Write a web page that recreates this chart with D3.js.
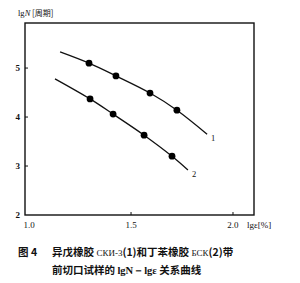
<!DOCTYPE html>
<html>
<head>
<meta charset="utf-8">
<script src="https://cdn.jsdelivr.net/npm/d3@7"></script>
<style>
  body { margin: 0; background: #fff; }
  text { fill: #111; }
</style>
</head>
<body>
<svg></svg>
<script>
const size = {w: 300, h: 283};
const plot = {l: 25, r: 254, t: 23, b: 215};

// curve 1 (СКИ-3), curve 2 (БСК): lgε, lgN
const curve1X = [1.152, 1.294, 1.426, 1.593, 1.725, 1.873];
const curve1Y = [5.33, 5.10, 4.84, 4.49, 4.14, 3.65];
const curve2X = [1.127, 1.299, 1.412, 1.564, 1.701, 1.779];
const curve2Y = [4.78, 4.37, 4.06, 3.63, 3.20, 2.92];
// which points carry a dot (first and last are curve ends only)
const dotIdx = [1, 2, 3, 4];
const curveLabels = ['1', '2'];

const yTicks = [2, 3, 4, 5];
const xTicks = [1.0, 1.5, 2.0];

const svg = d3.select('svg')
    .attr('width', size.w)
    .attr('height', size.h);

const x = d3.scaleLinear().domain([0.98, 2.103]).range([plot.l, plot.r]);
const y = d3.scaleLinear().domain([2, 5.92]).range([plot.b, plot.t]);

// frame
svg.append('rect')
    .attr('x', plot.l).attr('y', plot.t)
    .attr('width', plot.r - plot.l).attr('height', plot.b - plot.t)
    .attr('fill', 'none').attr('stroke', '#111').attr('stroke-width', 1.4);

// ticks (inward)
svg.selectAll('.yt').data(yTicks.slice(1)).enter().append('line')
    .attr('x1', plot.l).attr('x2', plot.l + 3)
    .attr('y1', d => y(d)).attr('y2', d => y(d))
    .attr('stroke', '#111').attr('stroke-width', 1);
svg.selectAll('.xt').data(xTicks.slice(1)).enter().append('line')
    .attr('x1', d => x(d)).attr('x2', d => x(d))
    .attr('y1', plot.b).attr('y2', plot.b - 3)
    .attr('stroke', '#111').attr('stroke-width', 1);

const serif = '"Liberation Serif", "DejaVu Serif", serif';

svg.selectAll('.yl').data(yTicks).enter().append('text')
    .attr('x', 20).attr('y', d => y(d) + 3)
    .attr('text-anchor', 'end')
    .style('font-family', serif).style('font-size', '9px').style('font-weight', 'bold')
    .text(d => d);
svg.selectAll('.xl').data(xTicks).enter().append('text')
    .attr('x', d => x(d)).attr('y', 228)
    .attr('text-anchor', 'middle')
    .style('font-family', serif).style('font-size', '9px')
    .text(d => d.toFixed(1));

// axis titles
const yt = svg.append('text').attr('x', 18).attr('y', 16)
    .style('font-family', serif).style('font-size', '8.5px');
yt.append('tspan').text('lg');
yt.append('tspan').style('font-style', 'italic').text('N');
yt.append('tspan').style('font-family', '"Noto Sans CJK SC"').style('font-size', '8px').text(' [周期]');

svg.append('text').attr('x', 247).attr('y', 228)
    .style('font-family', serif).style('font-size', '9px')
    .text('lgε[%]');

// curves
const line = d3.line()
    .x(d => x(d[0])).y(d => y(d[1]))
    .curve(d3.curveCatmullRom.alpha(0.5));

const series = [
    d3.zip(curve1X, curve1Y),
    d3.zip(curve2X, curve2Y)
];

series.forEach(function (pts, i) {
    svg.append('path')
        .attr('d', line(pts))
        .attr('fill', 'none').attr('stroke', '#111').attr('stroke-width', 1.3);
    svg.selectAll('.dot' + i).data(dotIdx.map(k => pts[k])).enter().append('circle')
        .attr('cx', d => x(d[0])).attr('cy', d => y(d[1]))
        .attr('r', 3.4).attr('fill', '#000');
    let last = pts[pts.length - 1];
    svg.append('text')
        .attr('x', x(last[0]) + 4).attr('y', y(last[1]) + 7)
        .style('font-family', serif).style('font-size', '8.5px')
        .text(curveLabels[i]);
});

// caption
const cjk = '"Noto Sans CJK SC", sans-serif';
const c1 = svg.append('text').attr('x', 18).attr('y', 256)
    .style('font-family', cjk).style('font-size', '10.5px').style('font-weight', 'bold');
c1.append('tspan').text('图 4');
c1.append('tspan').attr('x', 52).text('异戊橡胶 ');
c1.append('tspan').style('font-family', serif).style('font-weight', 'normal').style('font-size', '9px').text('СКИ-3');
c1.append('tspan').text('(1)和丁苯橡胶 ');
c1.append('tspan').style('font-family', serif).style('font-weight', 'normal').style('font-size', '9px').text('БСК');
c1.append('tspan').text('(2)带');

const c2 = svg.append('text').attr('x', 52).attr('y', 274)
    .style('font-family', cjk).style('font-size', '10.5px').style('font-weight', 'bold');
c2.append('tspan').text('前切口试样的 ');
c2.append('tspan').style('font-family', serif).text('lgN－lgε');
c2.append('tspan').text(' 关系曲线');
</script>
</body>
</html>
